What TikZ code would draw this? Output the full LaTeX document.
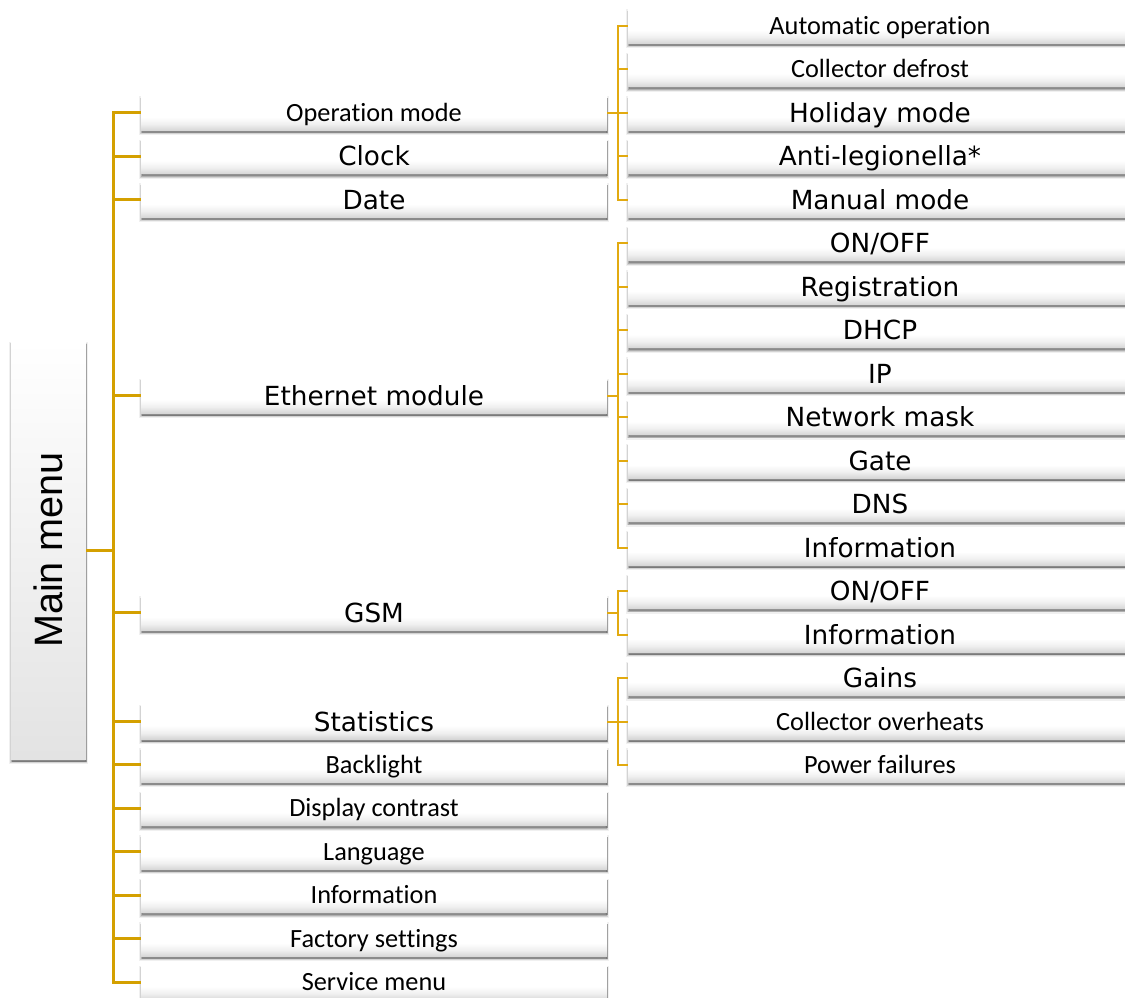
\documentclass[tikz,border=0pt]{standalone}
\usepackage{fontspec}
\newfontfamily\calibfont[RawFeature={-liga;-clig;-calt;-dlig}]{Carlito}
\newfontfamily\verdfont{DejaVu Sans}
\newfontfamily\arialfont{Liberation Sans}
\usetikzlibrary{shadows}

\definecolor{menugold}{RGB}{212,160,0}
\definecolor{forkgold}{RGB}{226,170,16}
\pgfdeclareverticalshading{menushade}{100bp}{color(0bp)=(black!16); color(25bp)=(black!16); color(34bp)=(black!6); color(44bp)=(white); color(100bp)=(white)}

\tikzset{
  boxshadow/.style={
    preaction={fill=black, draw=black, line width=4pt, opacity=.06, transform canvas={yshift=-3pt}},
    preaction={fill=black, draw=black, line width=1.5pt, opacity=.12, transform canvas={yshift=-3pt}},
    preaction={fill=black, opacity=.3, transform canvas={xshift=.5pt, yshift=-2.5pt}}},
  menubox/.style={shading=menushade, minimum height=35pt, inner sep=0pt, boxshadow},
  midbox/.style={menubox, minimum width=466pt},
  subbox/.style={menubox, minimum width=504pt},
  calib/.style={font=\calibfont\fontsize{26.3}{30}\selectfont, text height=17pt, text depth=0pt},
  verd/.style={font=\verdfont\fontsize{26.3}{30}\selectfont, text height=19pt, text depth=0pt},
  trunkline/.style={menugold, line width=3pt},
  forkline/.style={forkgold, line width=2pt},
}

\begin{document}
\begin{tikzpicture}[x=1pt, y=-1pt]
    \useasboundingbox (0,0) rectangle (1125,998);

    % Main menu box
    \node[top color=white, bottom color=black!11, minimum width=75pt, minimum height=418pt, inner sep=0pt,
      boxshadow, font=\arialfont\fontsize{39.6}{44}\selectfont] (mainmenu) at (48.5,550) {\rotatebox{90}{Main menu}};

    % First level
    \node[midbox, calib] (opmode) at (374,112.94) {Operation mode};
    \node[midbox, verd] (clock) at (374,156.41) {Clock};
    \node[midbox, verd] (date) at (374,199.88) {Date};
    \node[midbox, verd] (ethernet) at (374,395.5) {Ethernet module};
    \node[midbox, verd] (gsm) at (374,612.85) {GSM};
    \node[midbox, verd] (statistics) at (374,721.52) {Statistics};
    \node[midbox, calib] (backlight) at (374,764.99) {Backlight};
    \node[midbox, calib] (contrast) at (374,808.46) {Display contrast};
    \node[midbox, calib] (language) at (374,851.93) {Language};
    \node[midbox, calib] (info) at (374,895.4) {Information};
    \node[midbox, calib] (factory) at (374,938.87) {Factory settings};
    \node[midbox, calib] (service) at (374,982.34) {Service menu};

    % Operation mode items
    \node[subbox, calib] (auto) at (880,26) {Automatic operation};
    \node[subbox, calib] (defrost) at (880,69.47) {Collector defrost};
    \node[subbox, verd] (holiday) at (880,112.94) {Holiday mode};
    \node[subbox, verd] (legion) at (880,156.41) {Anti-legionella*};
    \node[subbox, verd] (manual) at (880,199.88) {Manual mode};

    % Ethernet module items
    \node[subbox, verd] (ethonoff) at (880,243.35) {ON/OFF};
    \node[subbox, verd] (registration) at (880,286.82) {Registration};
    \node[subbox, verd] (dhcp) at (880,330.29) {DHCP};
    \node[subbox, verd] (ip) at (880,373.76) {IP};
    \node[subbox, verd] (mask) at (880,417.23) {Network mask};
    \node[subbox, verd] (gate) at (880,460.7) {Gate};
    \node[subbox, verd] (dns) at (880,504.17) {DNS};
    \node[subbox, verd] (ethinfo) at (880,547.64) {Information};

    % GSM items
    \node[subbox, verd] (gsmonoff) at (880,591.11) {ON/OFF};
    \node[subbox, verd] (gsminfo) at (880,634.58) {Information};

    % Statistics items
    \node[subbox, verd] (gains) at (880,678.05) {Gains};
    \node[subbox, calib] (overheats) at (880,721.52) {Collector overheats};
    \node[subbox, calib] (powerfail) at (880,764.99) {Power failures};

    % Trunk
    \coordinate (trunk) at (113,550);
    \draw[trunkline] (mainmenu.east) -- (trunk);
    \foreach \n in {opmode,clock,date,ethernet,gsm,statistics,backlight,contrast,language,info,factory,service}
      \draw[trunkline] (trunk) |- (\n.west);

    % Forks
    \coordinate (opfork) at (618,112.94);
    \draw[forkline] (opmode.east) -- (opfork);
    \foreach \n in {auto,defrost,holiday,legion,manual}
      \draw[forkline] (opfork) |- (\n.west);

    \coordinate (ethfork) at (618,395.5);
    \draw[forkline] (ethernet.east) -- (ethfork);
    \foreach \n in {ethonoff,registration,dhcp,ip,mask,gate,dns,ethinfo}
      \draw[forkline] (ethfork) |- (\n.west);

    \coordinate (gsmfork) at (618,612.85);
    \draw[forkline] (gsm.east) -- (gsmfork);
    \foreach \n in {gsmonoff,gsminfo}
      \draw[forkline] (gsmfork) |- (\n.west);

    \coordinate (statfork) at (618,721.52);
    \draw[forkline] (statistics.east) -- (statfork);
    \foreach \n in {gains,overheats,powerfail}
      \draw[forkline] (statfork) |- (\n.west);

\end{tikzpicture}
\end{document}
